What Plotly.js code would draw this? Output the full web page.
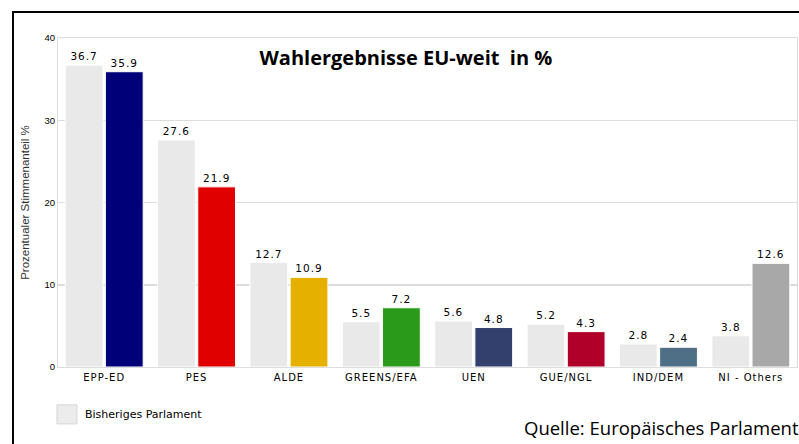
<!DOCTYPE html>
<html><head><meta charset="utf-8">
<script src="https://cdn.plot.ly/plotly-3.0.1.min.js"></script>
<style>
html,body{margin:0;padding:0;background:#fff;overflow:hidden}
#chart{position:absolute;left:0;top:0;width:799px;height:444px}
#frame{position:absolute;left:12px;top:11px;width:800px;height:450px;border:2px solid #000;pointer-events:none;box-sizing:border-box}
#chart .xtick text, #chart text.bartext {letter-spacing:1px}
</style></head>
<body>
<div id="chart"></div>
<div id="frame"></div>
<script>
const categories = ["EPP-ED","PES","ALDE","GREENS/EFA","UEN","GUE/NGL","IND/DEM","NI - Others"];
const previousParliament = [36.7,27.6,12.7,5.5,5.6,5.2,2.8,3.8];
const currentResult = [35.9,21.9,10.9,7.2,4.8,4.3,2.4,12.6];
const yTicks = [0,10,20,30,40];

const currentColors = ["#000078","#e00000","#e6b000","#2a9a1a","#33406e","#b0002a","#4f6f86","#a8a8a8"];

const labelFont = {family:"DejaVu Sans, Verdana, sans-serif", size:10.5, color:"#000"};

const traces = [
  {type:"bar", x:categories, y:previousParliament, name:"Bisheriges Parlament",
   marker:{color:"#e9e9e9", line:{color:"#ffffff", width:1}},
   text:previousParliament.map(v=>v.toFixed(1)), textposition:"outside", textfont:labelFont,
   cliponaxis:false, showlegend:false, hoverinfo:"none"},
  {type:"bar", x:categories, y:currentResult, name:"Aktuell",
   marker:{color:currentColors, line:{color:"#ffffff", width:1}},
   text:currentResult.map(v=>v.toFixed(1)), textposition:"outside", textfont:labelFont,
   cliponaxis:false, showlegend:false, hoverinfo:"none"}
];

const layout = {
  width:799, height:444,
  margin:{l:58, r:2, t:38, b:77},
  paper_bgcolor:"rgba(0,0,0,0)", plot_bgcolor:"#fff",
  barmode:"group", bargap:0.13, bargroupgap:0.06,
  title:{text:"<b>Wahlergebnisse EU-weit  in %</b>", x:0.508, xanchor:"center", y:0.869, yanchor:"middle",
         font:{family:"Open Sans, Noto Sans, sans-serif", size:20, color:"#000"}},
  xaxis:{type:"category", tickfont:{family:"DejaVu Sans, Verdana, sans-serif", size:10, color:"#000"},
         ticks:"", showgrid:false, showline:true, linecolor:"#dddddd", mirror:true, ticklabelstandoff:1},
  yaxis:{range:[0,40], tickvals:yTicks, ticktext:yTicks.map(String),
         tickfont:{family:"Liberation Sans, Arial, sans-serif", size:9.5, color:"#000"},
         showgrid:true, gridcolor:"#dddddd", gridwidth:1.5, zeroline:true, zerolinecolor:"#dddddd",
         showline:true, linecolor:"#dddddd", mirror:true, ticks:"", ticklabelstandoff:0,
         title:{text:"Prozentualer Stimmenanteil %", standoff:12,
                font:{family:"Liberation Sans, Arial, sans-serif", size:11.5, color:"#333"}}},
  shapes:[
    {type:"rect", xref:"paper", yref:"paper", x0:-0.0014, x1:0.0257, y0:-0.115, y1:-0.173,
     fillcolor:"#ececec", line:{color:"#d6d6d6", width:1}}
  ],
  annotations:[
    {text:"Bisheriges Parlament", xref:"paper", yref:"paper", x:0.034, y:-0.143,
     xanchor:"left", yanchor:"middle", showarrow:false,
     font:{family:"DejaVu Sans, Verdana, sans-serif", size:11, color:"#000"}},
    {text:"Quelle: Europäisches Parlament", xref:"paper", yref:"paper", x:0.628, y:-0.185,
     xanchor:"left", yanchor:"middle", showarrow:false,
     font:{family:"Open Sans, Noto Sans, sans-serif", size:18.5, color:"#000"}}
  ]
};

Plotly.newPlot("chart", traces, layout, {displayModeBar:false, staticPlot:true});
</script>
</body></html>
